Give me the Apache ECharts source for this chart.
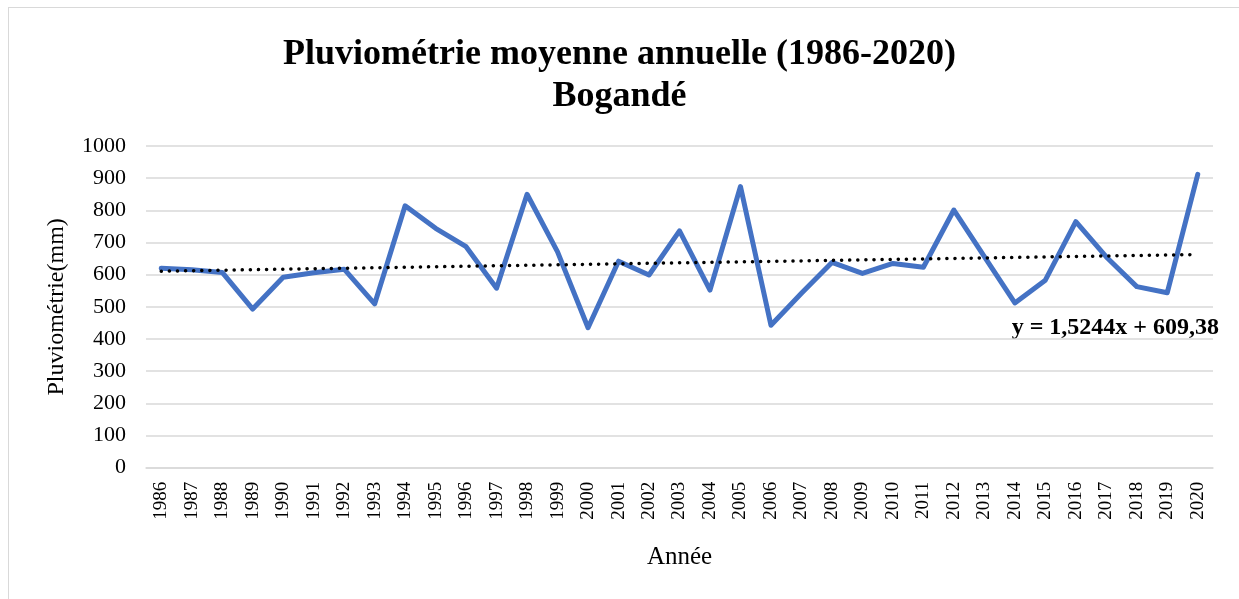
<!DOCTYPE html>
<html>
<head>
<meta charset="utf-8">
<script src="https://cdn.jsdelivr.net/npm/echarts@6/dist/echarts.min.js"></script>
<style>
  html, body { margin: 0; padding: 0; background: #fff; }
  #frame { position: absolute; left: 8px; top: 7px; width: 1240px; height: 600px; border: 1px solid #d9d9d9; box-sizing: border-box; }
  #main { position: absolute; left: 0; top: 0; width: 1239px; height: 599px; }
</style>
</head>
<body>
<div id="frame"></div>
<div id="main"></div>
<script>
// années
const years = ['1986', '1987', '1988', '1989', '1990', '1991', '1992', '1993', '1994', '1995',
  '1996', '1997', '1998', '1999', '2000', '2001', '2002', '2003', '2004', '2005',
  '2006', '2007', '2008', '2009', '2010', '2011', '2012', '2013', '2014', '2015',
  '2016', '2017', '2018', '2019', '2020'];
// pluviométrie annuelle (mm)
const rainfall = [620, 615, 607, 493, 592, 606, 617, 509, 814, 744,
  687, 558, 850, 671, 435, 642, 599, 736, 552, 874,
  443, 542, 638, 604, 635, 623, 801, 656, 512, 583,
  765, 655, 563, 544, 912];
// courbe de tendance affichée : y = 1,5244x + 609,38
const trendSlope = 1.5244;
const trendIntercept = 609.38;
const trendLabel = 'y = 1,5244x + 609,38';
const yTicks = { min: 0, max: 1000, interval: 100 };

const trend = years.map((y, i) => +(trendSlope * (i + 1) + trendIntercept).toFixed(2));

const font = '"Liberation Serif", "Times New Roman", serif';
const chart = echarts.init(document.getElementById('main'));
chart.setOption({
  animation: false,
  textStyle: { fontFamily: font },
  title: {
    text: 'Pluviométrie moyenne annuelle (1986-2020)\nBogandé',
    left: 'center',
    top: 29,
    textStyle: { fontFamily: font, fontSize: 36, fontWeight: 'bold', color: '#000', lineHeight: 42 }
  },
  graphic: [{
    type: 'text',
    right: 20,
    top: 316,
    style: { text: trendLabel, fontFamily: font, fontSize: 24, fontWeight: 'bold', fill: '#000' }
  }],
  grid: { left: 146, right: 26, top: 146, bottom: 131.3 },
  xAxis: {
    type: 'category',
    data: years,
    boundaryGap: true,
    name: 'Année',
    nameLocation: 'middle',
    nameGap: 77,
    nameTextStyle: { fontFamily: font, fontSize: 25, color: '#000' },
    axisLine: { lineStyle: { color: '#d9d9d9', width: 1.5 } },
    axisTick: { show: false },
    axisLabel: { rotate: 90, interval: 0, margin: 14, fontFamily: font, fontSize: 19, color: '#000' }
  },
  yAxis: {
    type: 'value',
    min: yTicks.min,
    max: yTicks.max,
    interval: yTicks.interval,
    name: 'Pluviométrie(mm)',
    nameLocation: 'middle',
    nameGap: 77,
    nameTextStyle: { fontFamily: font, fontSize: 24, color: '#000' },
    axisLine: { show: false },
    axisTick: { show: false },
    axisLabel: { margin: 20, fontFamily: font, fontSize: 22, color: '#000', formatter: v => String(v) },
    splitLine: { lineStyle: { color: '#d9d9d9', width: 1.5 } }
  },
  series: [
    {
      name: 'Pluviométrie',
      type: 'line',
      data: rainfall,
      symbol: 'none',
      lineStyle: { color: '#4472c4', width: 5, join: 'round', cap: 'round' },
      z: 2
    },
    {
      name: 'Tendance',
      type: 'line',
      data: trend,
      symbol: 'none',
      lineStyle: { color: '#000', width: 3.5, type: [0.1, 8], cap: 'round' },
      z: 3
    }
  ]
});
</script>
</body>
</html>
